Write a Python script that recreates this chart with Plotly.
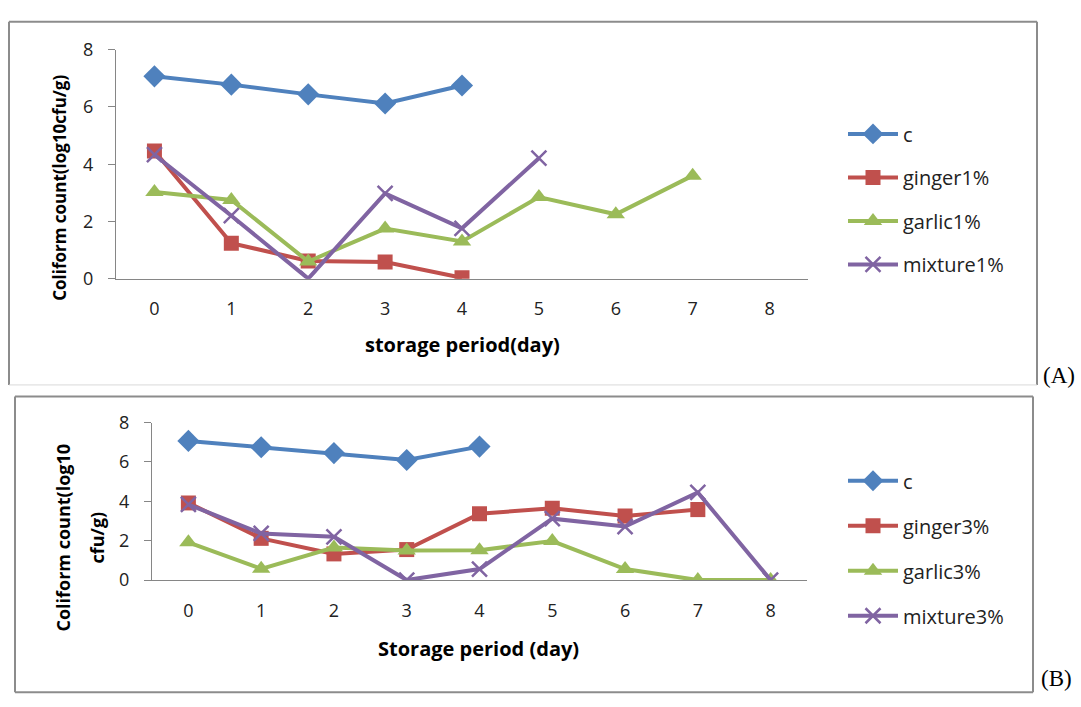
import plotly.graph_objects as go

# ---- data ----
days = [0, 1, 2, 3, 4, 5, 6, 7, 8]
day_ticks = ["0", "1", "2", "3", "4", "5", "6", "7", "8"]

a_names = ["c", "ginger1%", "garlic1%", "mixture1%"]
a_c = [7.07, 6.78, 6.44, 6.12, 6.75]
a_ginger = [4.46, 1.24, 0.62, 0.58, 0.03]
a_garlic = [3.03, 2.75, 0.60, 1.75, 1.30, 2.85, 2.25, 3.60]
a_mixture = [4.33, 2.20, 0.00, 2.98, 1.76, 4.21]

b_names = ["c", "ginger3%", "garlic3%", "mixture3%"]
b_c = [7.07, 6.75, 6.45, 6.10, 6.78]
b_ginger = [3.92, 2.12, 1.33, 1.55, 3.37, 3.65, 3.25, 3.58]
b_garlic = [1.92, 0.57, 1.65, 1.50, 1.52, 1.98, 0.56, 0.00, 0.00]
b_mixture = [3.84, 2.37, 2.20, 0.00, 0.56, 3.12, 2.72, 4.45, 0.00]

y_ticks = [0, 2, 4, 6, 8]

# ---- style ----
W, H = 1081, 707
colors = ["#4F81BD", "#C0504D", "#9BBB59", "#8064A2"]
symbols = ["diamond", "square", "triangle-up", "x-thin"]
msizes = [17, 15, 16, 15]
FONT = "Open Sans"
AXC = "#868686"


def px(x):
    return x / W


def py(y):
    return 1 - y / H


fig = go.Figure()


def add_series(vals_list, names, xa, ya, legend):
    for i, (vals, name) in enumerate(zip(vals_list, names)):
        sym = symbols[i]
        marker = dict(symbol=sym, size=msizes[i], color=colors[i])
        if sym == "x-thin":
            marker["line"] = dict(color=colors[i], width=2.5)
        fig.add_trace(go.Scatter(
            x=days[:len(vals)], y=vals, name=name,
            mode="lines+markers",
            line=dict(color=colors[i], width=4),
            marker=marker,
            xaxis=xa, yaxis=ya, legend=legend,
            legendgroup=legend + str(i),
            showlegend=True,
        ))


add_series([a_c, a_ginger, a_garlic, a_mixture], a_names, "x", "y", "legend")
add_series([b_c, b_ginger, b_garlic, b_mixture], b_names, "x2", "y2", "legend2")

tickfont = dict(family=FONT, size=18, color="#222222")

xcommon = dict(
    tickmode="array", tickvals=days, ticktext=day_ticks,
    range=[-0.5, 8.5], showline=True, linecolor=AXC, linewidth=1,
    ticks="", showgrid=False, zeroline=False, tickfont=tickfont,
    ticklabelstandoff=14,
)
ycommon = dict(
    tickmode="array", tickvals=y_ticks, range=[0, 8],
    showline=True, linecolor=AXC, linewidth=1,
    ticks="outside", ticklen=7, tickcolor=AXC,
    showgrid=False, zeroline=False, tickfont=tickfont,
    ticklabelstandoff=11,
)

legend_common = dict(
    font=dict(family=FONT, size=20, color="#222222"),
    bgcolor="rgba(0,0,0,0)",
    xanchor="left", yanchor="top", itemwidth=50,
)

fig.update_layout(
    width=W, height=H,
    margin=dict(l=0, r=0, t=0, b=0),
    paper_bgcolor="white", plot_bgcolor="white",
    xaxis=dict(domain=[px(116), px(808)], anchor="y", **xcommon),
    yaxis=dict(domain=[py(275), py(38)], anchor="x", **ycommon),
    xaxis2=dict(domain=[px(152), px(807)], anchor="y2", **xcommon),
    yaxis2=dict(domain=[py(587), py(424)], anchor="x2", **ycommon),
    legend=dict(x=px(843), y=py(105), tracegroupgap=14.5, **legend_common),
    legend2=dict(x=px(843), y=py(464), tracegroupgap=16, **legend_common),
)

# ---- panel frames ----
shapes = []


def line(x0, y0, x1, y1, color, width):
    shapes.append(dict(type="line", xref="paper", yref="paper",
                       x0=px(x0), y0=py(y0), x1=px(x1), y1=py(y1),
                       line=dict(color=color, width=width)))


line(9, 9, 1037, 9, "#8c8c8c", 2)
line(9, 9, 9, 385, "#8c8c8c", 2)
line(1037, 9, 1037, 385, "#8c8c8c", 2)
line(9, 385, 1037, 385, "#d9d9d9", 1)

line(15, 397, 1033, 397, "#8c8c8c", 2)
line(15, 397, 15, 703, "#8c8c8c", 2)
line(1033, 397, 1033, 703, "#8c8c8c", 2)
line(15, 703, 1033, 703, "#8c8c8c", 2)
fig.update_layout(shapes=shapes)

# ---- titles / labels ----
def bold(size):
    return dict(family=FONT, size=size, color="#000000", weight="bold")


serif = dict(family="Liberation Serif", size=23, color="#000000")
ann = [
    dict(text="storage period(day)", x=px(462), y=py(343), font=bold(20)),
    dict(text="Coliform count(log10cfu/g)", x=px(60), y=py(181),
         textangle=-90, font=bold(17)),
    dict(text="Storage period (day)", x=px(478), y=py(658), font=bold(20)),
    dict(text="Coliform count(log10", x=px(63), y=py(543),
         textangle=-90, font=bold(18)),
    dict(text="cfu/g)", x=px(97), y=py(543),
         textangle=-90, font=bold(18)),
    dict(text="(A)", x=px(1059), y=py(375), font=serif),
    dict(text="(B)", x=px(1056), y=py(689), font=serif),
]
for a in ann:
    a.update(xref="paper", yref="paper", showarrow=False,
             xanchor="center", yanchor="middle")
fig.update_layout(annotations=ann)

fig.write_html("out.html",
               config={"displayModeBar": False},
               post_script="document.body.style.margin='0px';"
                           "document.body.style.overflow='hidden';")
